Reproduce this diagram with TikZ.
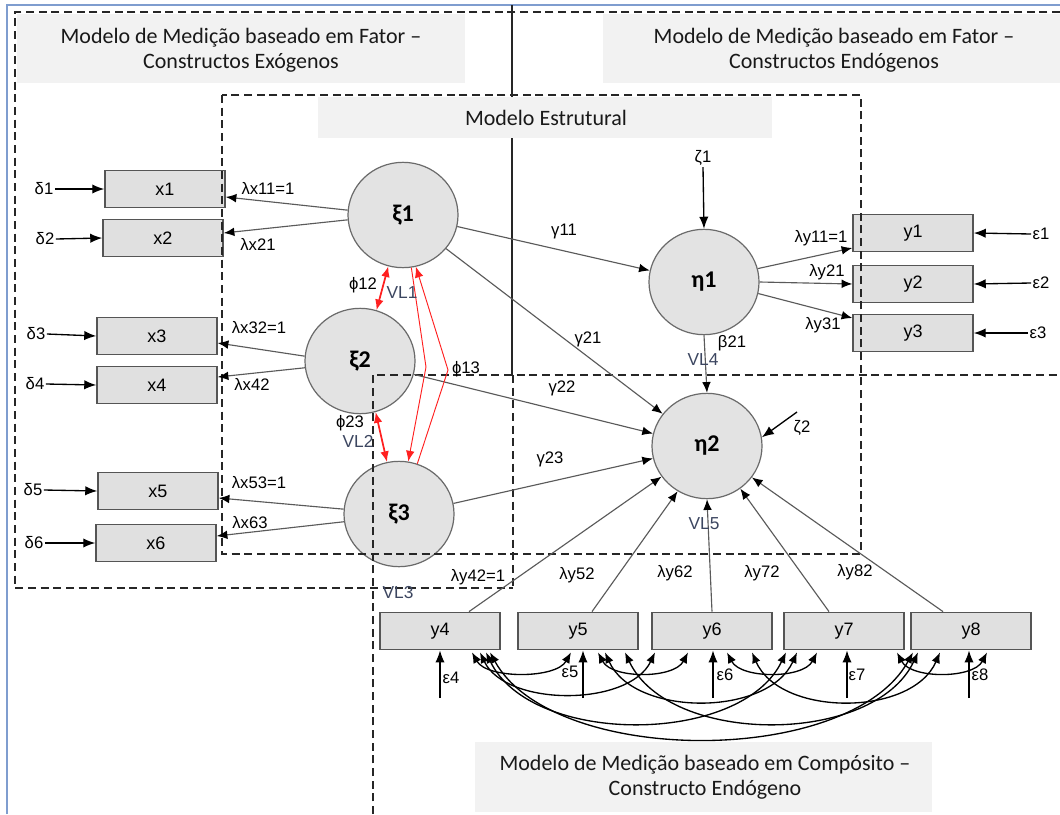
\documentclass[tikz,border=0pt]{standalone}
\usepackage{fontspec}
\setmainfont{Liberation Sans}
\newfontfamily\calib{Carlito}
\usetikzlibrary{arrows.meta,shapes.geometric,calc}
\definecolor{boxfill}{HTML}{E0E0E0}
\definecolor{boxline}{HTML}{555555}
\definecolor{circfill}{HTML}{E3E3E3}
\definecolor{circline}{HTML}{6A6A6A}
\definecolor{titlefill}{HTML}{F2F2F2}
\definecolor{loadline}{HTML}{5A5A5A}
\definecolor{frameblue}{HTML}{7F9DCF}
\definecolor{vlcol}{HTML}{3C4660}
\definecolor{redarr}{HTML}{FF2020}
\begin{document}
\begin{tikzpicture}[x=0.75pt,y=-0.75pt,
  obs/.style={rectangle, draw=boxline, fill=boxfill, line width=1.1pt, minimum width=90pt, minimum height=28pt, inner sep=0pt, font=\fontsize{13.5}{15}\selectfont},
  lat/.style={ellipse, draw=circline, fill=circfill, line width=0.9pt, minimum width=82.5pt, minimum height=79pt, inner sep=0pt, font=\calib\bfseries\fontsize{18}{20}\selectfont},
  lbl/.style={inner sep=1pt, font=\fontsize{12.5}{14}\selectfont, text=black},
  vl/.style={inner sep=1pt, font=\fontsize{13}{15}\selectfont, text=vlcol},
  load/.style={draw=loadline, line width=0.85pt, -{Latex[length=8pt,width=6.5pt,color=black]}},
  err/.style={draw=black, line width=1pt, -{Latex[length=9pt,width=7pt]}},
  cov/.style={draw=black, line width=1pt, {Latex[length=8pt,width=6.5pt]}-{Latex[length=8pt,width=6.5pt]}},
  redd/.style={draw=redarr, line width=1.3pt, {Latex[length=8pt,width=6.5pt]}-{Latex[length=8pt,width=6.5pt]}},
  redthin/.style={draw=redarr, line width=0.7pt, -{Latex[length=8pt,width=6.5pt]}},
  dashbox/.style={draw=black!85, line width=0.9pt, dash pattern=on 6pt off 3.5pt},
  ttext/.style={align=center, inner sep=0pt, font=\calib\fontsize{16.5}{19}\selectfont, text=black!90}
]
\useasboundingbox (0,0) rectangle (1060,814);
\fill[white] (0,0) rectangle (1060,814);

% observed
\node[obs] (x1) at (165,189) {x1};
\node[obs] (x2) at (163,238) {x2};
\node[obs] (x3) at (157,336) {x3};
\node[obs] (x4) at (157,385) {x4};
\node[obs] (x5) at (158,491) {x5};
\node[obs] (x6) at (156,543) {x6};
\node[obs] (y1) at (913,233) {y1};
\node[obs] (y2) at (913,284) {y2};
\node[obs] (y3) at (913,333) {y3};
\node[obs] (y4) at (440,631) {y4};
\node[obs] (y5) at (578,631) {y5};
\node[obs] (y6) at (712,631) {y6};
\node[obs] (y7) at (844,631) {y7};
\node[obs] (y8) at (971,631) {y8};

% latent
\node[lat] (xi1) at (403,215) {ξ1};
\node[lat] (xi2) at (360,361) {ξ2};
\node[lat] (xi3) at (399,514) {ξ3};
\node[lat] (eta1) at (704,282) {η1};
\node[lat] (eta2) at (707,446) {η2};

% frames
\draw[frameblue, line width=1.5pt] (7,814) -- (7,5) -- (1060,5);
\draw[dashbox] (1060,12) -- (15,12) -- (15,588) -- (513,588);
\draw[dashbox] (513,375) -- (513,588);
\draw[black!85, line width=0.9pt] (512,5) -- (512,375);
\draw[dashbox] (222,95) rectangle (861,554);
\draw[dashbox] (373,814) -- (373,375) -- (1060,375);

% titles
\fill[titlefill] (17,14) rectangle (465,83);
\node[ttext] (t1) at (241,50) {Modelo de Medição baseado em Fator –\\Constructos Exógenos};
\fill[titlefill] (603,14) rectangle (1060,83);
\node[ttext] (t2) at (834,50) {Modelo de Medição baseado em Fator –\\Constructos Endógenos};
\fill[titlefill] (318,97) rectangle (772,138);
\node[ttext] (t3) at (546,118) {Modelo Estrutural};
\fill[titlefill] (475,742) rectangle (932,812);
\node[ttext] (t4) at (705,777) {Modelo de Medição baseado em Compósito –\\Constructo Endógeno};

% loadings exogenous
\draw[load] (xi1.175) -- ($(x1.east)+(0,8)$);
\draw[load] (xi1.185) -- ($(x2.east)+(0,-5)$);
\draw[load] (xi2.175) -- ($(x3.east)+(0,7)$);
\draw[load] (xi2.187) -- ($(x4.east)+(0,-8)$);
\draw[load] (xi3.175) -- ($(x5.east)+(0,7)$);
\draw[load] (xi3.188) -- ($(x6.east)+(0,-7)$);

% structural
\draw[load] (xi1.-12) -- (eta1.168);
\draw[load] (xi1.-38) -- (eta2.144);
\draw[load] (xi2.-14) -- (eta2.167);
\draw[load] (xi3.11) -- (eta2.193);
\draw[load] (eta1.south) -- (eta2.north);

% endogenous reflective
\draw[load] (eta1.14) -- ($(y1.west)+(0,15)$);
\draw[load] (eta1.0) -- (y2.west);
\draw[load] (eta1.-12) -- ($(y3.west)+(0,-15)$);

% composite
\draw[load] ($(y4.north)+(29,0)$) -- (eta2.214);
\draw[load] ($(y5.north)+(14,0)$) -- (eta2.237);
\draw[load] (y6.north) -- (eta2.south);
\draw[load] ($(y7.north)+(-15,0)$) -- (eta2.308);
\draw[load] ($(y8.north)+(-28,0)$) -- (eta2.325);

% errors
\node[lbl] (d1) at (44,189) {δ1};
\node[lbl] (d2) at (45,239) {δ2};
\node[lbl] (d3) at (36,334) {δ3};
\node[lbl] (d4) at (35,384) {δ4};
\node[lbl] (d5) at (33,490) {δ5};
\node[lbl] (d6) at (34,543) {δ6};
\draw[err] (d1.east) -- (x1.west);
\draw[err] (d2.east) -- (x2.west);
\draw[err] (d3.east) -- (x3.west);
\draw[err] (d4.east) -- (x4.west);
\draw[err] (d5.east) -- (x5.west);
\draw[err] (d6.east) -- (x6.west);
\node[lbl] (e1) at (1041,234) {ε1};
\node[lbl] (e2) at (1041,283) {ε2};
\node[lbl] (e3) at (1038,333) {ε3};
\draw[err] (e1.west) -- (y1.east);
\draw[err] (e2.west) -- (y2.east);
\draw[err] (e3.west) -- (y3.east);
\node[lbl] (z1) at (703,158) {ζ1};
\draw[err] (z1.south) -- (eta1.north);
\node[lbl] (z2) at (802,428) {ζ2};
\coordinate (z2s) at (797,412);
\draw[err] (z2s) -- (eta2.9);

\coordinate (e4s) at (440,698);
\coordinate (e5s) at (583,698);
\coordinate (e6s) at (713,698);
\coordinate (e7s) at (847,698);
\coordinate (e8s) at (969,698);
\node[lbl] (e4) at (451,678) {ε4};
\node[lbl] (e5) at (570,672) {ε5};
\node[lbl] (e6) at (725,675) {ε6};
\node[lbl] (e7) at (857,675) {ε7};
\node[lbl] (e8) at (980,675) {ε8};
\draw[err] (e4s) -- (e4s |- y4.south);
\draw[err] (e5s) -- (e5s |- y5.south);
\draw[err] (e6s) -- (e6s |- y6.south);
\draw[err] (e7s) -- (e7s |- y7.south);
\draw[err] (e8s) -- (e8s |- y8.south);

% covariances among composite indicators
\draw[cov] ($(y4.south)+(32,2)$) .. controls (487,679) and (556,679) .. ($(y5.south)+(-7,2)$);
\draw[cov] ($(y4.south)+(40,2)$) .. controls (506,707) and (629,707) .. ($(y6.south)+(-57,2)$);
\draw[cov] ($(y4.south)+(46,2)$) .. controls (531,746) and (741,746) .. ($(y7.south)+(-58,2)$);
\draw[cov] ($(y4.south)+(50,2)$) .. controls (553,767) and (850,767) .. ($(y8.south)+(-58,2)$);
\draw[cov] ($(y5.south)+(20,2)$) .. controls (612,679) and (674,679) .. ($(y6.south)+(-24,2)$);
\draw[cov] ($(y5.south)+(27,2)$) .. controls (634,717) and (768,717) .. ($(y7.south)+(-47,2)$);
\draw[cov] ($(y5.south)+(47,2)$) .. controls (669,746) and (874,746) .. ($(y8.south)+(-53,2)$);
\draw[cov] ($(y6.south)+(15,2)$) .. controls (741,679) and (803,679) .. ($(y7.south)+(-27,2)$);
\draw[cov] ($(y6.south)+(40,2)$) .. controls (780,717) and (912,717) .. ($(y8.south)+(-31,2)$);
\draw[cov] ($(y7.south)+(53,2)$) .. controls (911,679) and (973,679) .. ($(y8.south)+(16,2)$);

% red correlations
\draw[redd] (xi1.254) -- (xi2.72);
\draw[redd] (xi2.287) -- (xi3.103);
\coordinate (b1) at (426,367);
\coordinate (b2) at (448,370);
\draw[redthin] (xi1.279) -- (b1) -- (xi3.80);
\draw[redthin] (xi3.70) -- (b2) -- (xi1.284);

% labels
\node[lbl] at (268,188) {λx11=1};
\node[lbl] at (258,244) {λx21};
\node[lbl] at (259,328) {λx32=1};
\node[lbl] at (252,384) {λx42};
\node[lbl] at (259,483) {λx53=1};
\node[lbl] at (250,523) {λx63};
\node[lbl] at (564,231) {γ11};
\node[lbl] at (588,339) {γ21};
\node[lbl] at (562,388) {γ22};
\node[lbl] at (550,459) {γ23};
\node[lbl] at (732,343) {β21};
\node[lbl] at (821,238) {λy11=1};
\node[lbl] at (827,272) {λy21};
\node[lbl] at (823,325) {λy31};
\node[lbl] at (478,577) {λy42=1};
\node[lbl] at (577,575) {λy52};
\node[lbl] at (675,573) {λy62};
\node[lbl] at (762,573) {λy72};
\node[lbl] at (855,572) {λy82};
\node[lbl] at (363,285) {ϕ12};
\node[lbl] at (350,423) {ϕ23};
\node[lbl] at (466,369) {ϕ13};
\node[vl] at (402,293) {VL1};
\node[vl] at (358,441) {VL2};
\node[vl] at (398,593) {VL3};
\node[vl] at (703,360) {VL4};
\node[vl] at (704,524) {VL5};
\end{tikzpicture}
\end{document}
